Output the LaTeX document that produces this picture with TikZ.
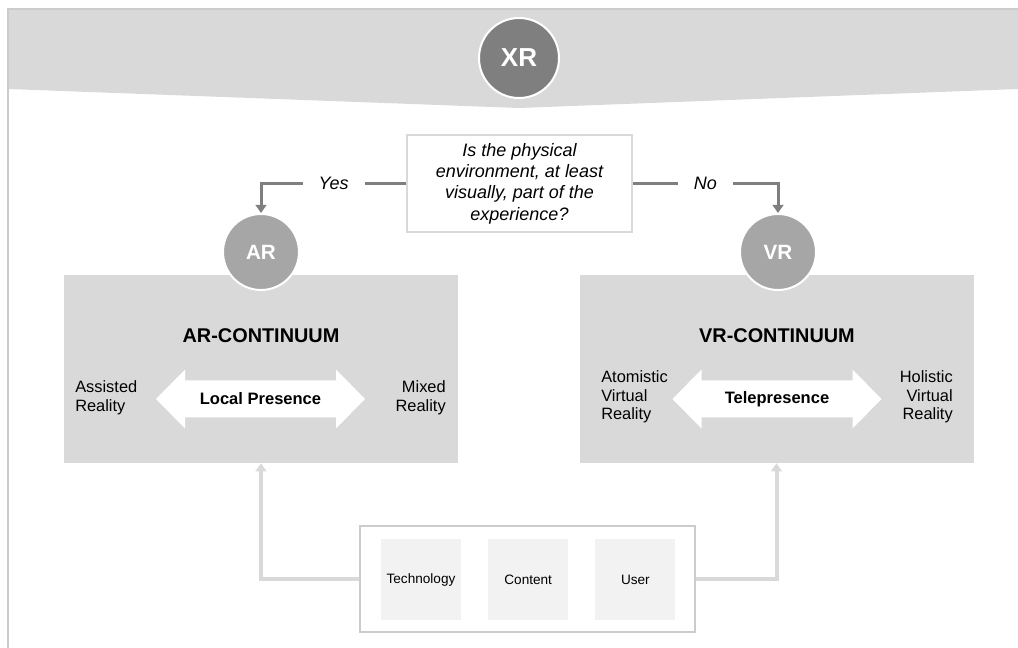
\documentclass[tikz,border=0pt]{standalone}
\usepackage{fontspec}
\setmainfont{Liberation Sans}
\usetikzlibrary{positioning,arrows.meta}
\definecolor{xrdark}{HTML}{7F7F7F}
\definecolor{armid}{HTML}{A6A6A6}
\definecolor{boxgray}{HTML}{D9D9D9}
\definecolor{linegray}{HTML}{CCCCCC}
\definecolor{tilegray}{HTML}{F2F2F2}

\begin{document}
\begin{tikzpicture}[x=0.75pt,y=-0.75pt,
  badge/.style={circle,draw=white,line width=1.5pt,text=white,inner sep=0pt},
  continuum/.style={fill=boxgray,minimum width=295.5pt,minimum height=141pt,inner sep=0pt},
  decision/.style={draw=xrdark,line width=2.25pt,-{Triangle[length=6pt,width=8pt]}},
  answer/.style={fill=white,inner xsep=12pt,font=\itshape\fontsize{13.5}{16}\selectfont},
  presence/.style={inner sep=0pt,font=\bfseries\fontsize{12.4}{15}\selectfont},
  presence arrow/.pic={\fill[white] (-104.5,0) -- (-75.5,-29.5) -- (-75.5,-18.5) -- (75.5,-18.5) -- (75.5,-29.5) -- (104.5,0) -- (75.5,29.5) -- (75.5,18.5) -- (-75.5,18.5) -- (-75.5,29.5) -- cycle;},
  pole/.style={inner sep=0pt,font=\fontsize{12.3}{14}\selectfont},
  factor/.style={fill=tilegray,minimum width=60pt,minimum height=61pt,inner sep=0pt,font=\fontsize{10.2}{12}\selectfont},
  feed/.style={draw=boxgray,line width=3pt,-{Triangle[length=6pt,width=8pt]}}]

\useasboundingbox (0,0) rectangle (1018,648);
\fill[boxgray] (8,9) -- (1018,9) -- (1018,89) -- (519,108) -- (8,89) -- cycle;
\draw[linegray,line width=1pt] (8,648) -- (8,9) -- (1018,9);
\node[badge,fill=xrdark,minimum size=60pt,font=\bfseries\fontsize{19.5}{23}\selectfont] (xr) at (519,58) {XR};

\node[draw=boxgray,line width=1.2pt,fill=white,minimum width=169pt,minimum height=73pt,align=center,font=\itshape\fontsize{13.5}{16}\selectfont] (question) at (519.5,183.5) {Is the physical\\environment, at least\\visually, part of the\\experience?};

\node[continuum] (arbox) at (261,369) {};
\node[continuum] (vrbox) at (776.5,369) {};
\node[badge,fill=armid,minimum size=57pt,font=\bfseries\fontsize{15.5}{18}\selectfont] (ar) at (261,252) {AR};
\node[badge,fill=armid,minimum size=57pt,font=\bfseries\fontsize{15.5}{18}\selectfont] (vr) at (778,252) {VR};

\draw[decision] (question.west) -| node[pos=0.25,answer] (yes) {Yes} (ar.north);
\draw[decision] (question.east) -| node[pos=0.25,answer] (no) {No} (vr.north);

\node[font=\bfseries\fontsize{14.9}{18}\selectfont] (arname) at (261,336) {AR-CONTINUUM};
\pic at (260.5,399) {presence arrow};
\node[presence] (local) at (260.5,399) {Local Presence};
\node[pole,align=left,anchor=west] (assisted) at (75,398) {Assisted\\Reality};
\node[pole,align=right,anchor=east] (mixed) at (446,398) {Mixed\\Reality};

\node[font=\bfseries\fontsize{14.9}{18}\selectfont] (vrname) at (777,336) {VR-CONTINUUM};
\pic at (777,399) {presence arrow};
\node[presence] (tele) at (777,399) {Telepresence};
\node[pole,align=left,anchor=west] (atomistic) at (601,397) {Atomistic\\Virtual\\Reality};
\node[pole,align=right,anchor=east] (holistic) at (953,397) {Holistic\\Virtual\\Reality};

\node[draw=linegray,line width=1.2pt,fill=white,minimum width=251pt,minimum height=79.5pt] (factors) at (527.5,579) {};
\node[factor] (technology) at (421,579.5) {Technology};
\node[factor,right=20pt of technology] (content) {Content};
\node[factor,right=20pt of content] (user) {User};

\draw[feed] (factors.west) -| (arbox.south);
\draw[feed] (factors.east) -| (vrbox.south);
\end{tikzpicture}
\end{document}
